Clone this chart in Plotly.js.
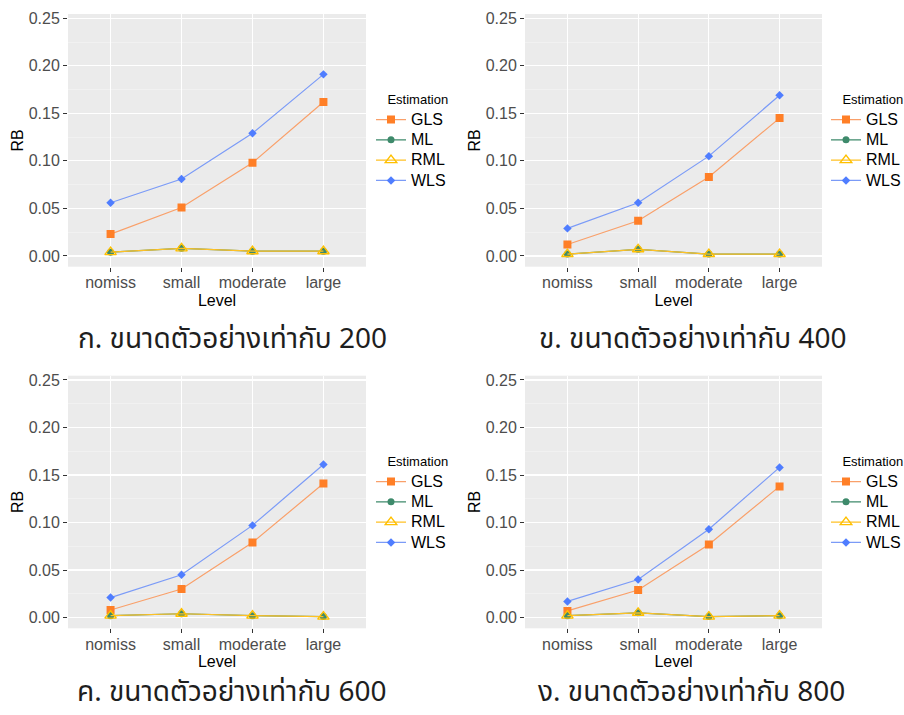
<!DOCTYPE html>
<html>
<head>
<meta charset="utf-8">
<script src="https://cdn.plot.ly/plotly-3.0.1.min.js"></script>
<style>html,body{margin:0;padding:0;background:#fff;}#chart{width:904px;height:715px;}</style>
</head>
<body>
<div id="chart"></div>
<script>
// ---- data ----
const levels = ['nomiss', 'small', 'moderate', 'large'];
const methods = ['GLS', 'ML', 'RML', 'WLS'];

const gls200 = [0.023, 0.051, 0.098, 0.162];
const ml200  = [0.004, 0.008, 0.005, 0.005];
const rml200 = [0.004, 0.008, 0.005, 0.005];
const wls200 = [0.056, 0.081, 0.129, 0.191];

const gls400 = [0.012, 0.037, 0.083, 0.145];
const ml400  = [0.002, 0.007, 0.002, 0.002];
const rml400 = [0.002, 0.007, 0.002, 0.002];
const wls400 = [0.029, 0.056, 0.105, 0.169];

const gls600 = [0.008, 0.030, 0.079, 0.141];
const ml600  = [0.002, 0.004, 0.002, 0.001];
const rml600 = [0.002, 0.004, 0.002, 0.001];
const wls600 = [0.021, 0.045, 0.097, 0.161];

const gls800 = [0.007, 0.029, 0.077, 0.138];
const ml800  = [0.002, 0.005, 0.001, 0.002];
const rml800 = [0.002, 0.005, 0.001, 0.002];
const wls800 = [0.017, 0.040, 0.093, 0.158];

const panelTitles = ['ก. ขนาดตัวอย่างเท่ากับ 200', 'ข. ขนาดตัวอย่างเท่ากับ 400',
                     'ค. ขนาดตัวอย่างเท่ากับ 600', 'ง. ขนาดตัวอย่างเท่ากับ 800'];
const legendTitle = 'Estimation';
const yTicks = [0, 0.05, 0.10, 0.15, 0.20, 0.25];
const yTickText = ['0.00', '0.05', '0.10', '0.15', '0.20', '0.25'];
const yMinor = [0.025, 0.075, 0.125, 0.175, 0.225];

const panels = [
  {GLS: gls200, ML: ml200, RML: rml200, WLS: wls200},
  {GLS: gls400, ML: ml400, RML: rml400, WLS: wls400},
  {GLS: gls600, ML: ml600, RML: rml600, WLS: wls600},
  {GLS: gls800, ML: ml800, RML: rml800, WLS: wls800}
];

// ---- styles ----
const W = 904, H = 715;
const styles = {
  GLS: {line: '#F9A06A', marker: {symbol: 'square', size: 8, color: '#FF7F27'}},
  ML:  {line: '#3E8A6B', marker: {symbol: 'circle', size: 7, color: '#3E8A6B'}},
  RML: {line: '#FFC125', marker: {symbol: 'triangle-up-open', size: 10, color: '#FFC000', line: {width: 1.4, color: '#FFC000'}}},
  WLS: {line: '#7B9BF7', marker: {symbol: 'diamond', size: 6.5, color: '#4F7DFF'}}
};
// pixel boxes [left, right, top, bottom]
const boxes = [
  [68, 366, 14, 266.7],
  [525, 822, 14, 266.7],
  [68, 366, 375.7, 628.3],
  [525, 822, 375.7, 628.3]
];
const legendPos = [[371, 87.5], [826, 87.5], [371, 449.5], [826, 449.5]];
const titlePos = [[232, 339], [693, 339], [232, 692], [691, 692]];

const traces = [];
const layout = {
  width: W, height: H,
  margin: {l: 0, r: 0, t: 0, b: 0, autoexpand: false},
  paper_bgcolor: '#ffffff',
  plot_bgcolor: '#EBEBEB',
  font: {family: 'Liberation Sans, Arial, sans-serif', color: '#000'},
  showlegend: true,
  annotations: [],
  shapes: []
};

panels.forEach((p, i) => {
  const n = i + 1;
  const sfx = n === 1 ? '' : String(n);
  const xa = 'x' + sfx, ya = 'y' + sfx, lg = 'legend' + sfx;
  methods.forEach(m => {
    traces.push({
      type: 'scatter', mode: 'lines+markers',
      x: levels, y: p[m],
      name: '<span style="font-size:16px">' + m + '</span>',
      xaxis: xa, yaxis: ya, legend: lg,
      line: {color: styles[m].line, width: 1.2},
      marker: styles[m].marker
    });
  });
  const b = boxes[i];
  layout['xaxis' + sfx] = {
    domain: [b[0] / W, b[1] / W],
    anchor: ya,
    type: 'category', categoryorder: 'array', categoryarray: levels,
    range: [-0.6, 3.6],
    showgrid: true, gridcolor: '#FFFFFF', gridwidth: 1.1,
    zeroline: false, showline: false,
    ticks: 'outside', ticklen: 4, tickcolor: '#333333', tickwidth: 1,
    ticklabelstandoff: -3,
    tickfont: {size: 16, color: '#4D4D4D'},
    title: {text: 'Level', font: {size: 16, color: '#000'}, standoff: 4}
  };
  layout['yaxis' + sfx] = {
    domain: [1 - b[3] / H, 1 - b[2] / H],
    anchor: xa,
    range: [-0.0113, 0.2545],
    tickvals: yTicks, ticktext: yTickText,
    showgrid: true, gridcolor: '#FFFFFF', gridwidth: 1.1,
    minor: {tickvals: yMinor, showgrid: true, gridcolor: '#F5F5F5', gridwidth: 0.6, ticks: ''},
    zeroline: false, showline: false,
    ticks: 'outside', ticklen: 4, tickcolor: '#333333', tickwidth: 1,
    tickfont: {size: 16, color: '#4D4D4D'},
    title: {text: 'RB', font: {size: 16, color: '#000'}, standoff: 1}
  };
  const lp = legendPos[i];
  layout[lg] = {
    x: lp[0] / W, y: 1 - lp[1] / H, xanchor: 'left', yanchor: 'top',
    bgcolor: 'rgba(255,255,255,0)',
    title: {text: '&nbsp;&nbsp;&nbsp;&nbsp;<span style="font-size:13px">' + legendTitle + '</span>', font: {size: 13, color: '#000'}},
    font: {size: 13.3, color: '#000'},
    itemwidth: 30, tracegroupgap: 0
  };
  const tp = titlePos[i];
  layout.annotations.push({
    text: panelTitles[i], xref: 'paper', yref: 'paper',
    x: tp[0] / W, y: 1 - tp[1] / H, xanchor: 'center', yanchor: 'middle',
    showarrow: false,
    font: {family: 'Noto Sans Thai, Loma, Garuda, Noto Sans, DejaVu Sans, sans-serif', size: 28, color: '#1E1E1E'}
  });
});

Plotly.newPlot('chart', traces, layout, {staticPlot: true});
</script>
</body>
</html>
